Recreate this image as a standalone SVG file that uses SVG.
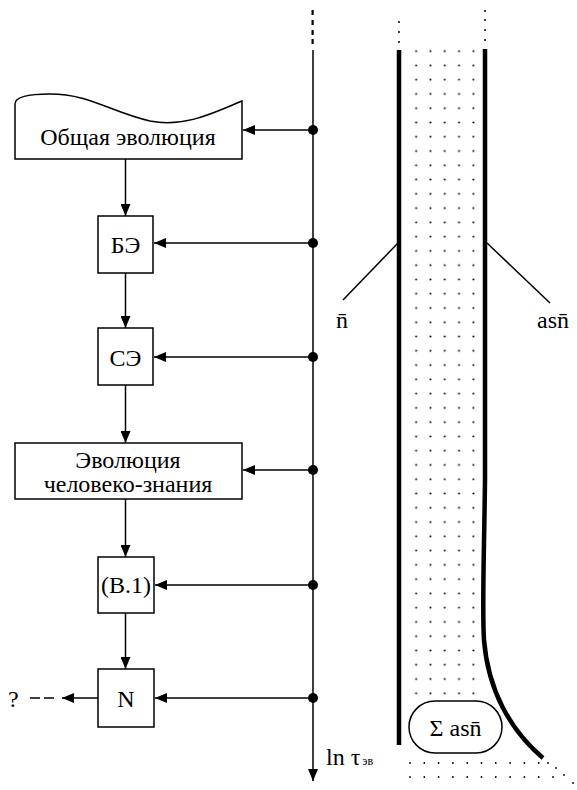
<svg xmlns="http://www.w3.org/2000/svg" width="577" height="790" viewBox="0 0 577 790" font-family="'Liberation Serif', 'DejaVu Serif', 'Times New Roman', serif">
<style>
text{font-family:'Liberation Serif','DejaVu Serif','Times New Roman',serif;font-size:24px;fill:#000}
.c{text-anchor:middle}
.box{fill:#fff;stroke:#000;stroke-width:1.5}
.ln{stroke:#000;stroke-width:1.5;fill:none}
.thick{stroke:#000;stroke-width:4.5;fill:none}
.dot{fill:#000}
</style>
<defs>
<marker id="ah" viewBox="0 0 12 10" refX="12" refY="5" markerWidth="12" markerHeight="10" orient="auto" markerUnits="userSpaceOnUse"><path d="M0,0 L12,5 L0,10 Z" fill="#000"/></marker>
<pattern id="grid" patternUnits="userSpaceOnUse" x="409" y="44" width="14.3" height="14.27"><circle cx="7.15" cy="7.13" r="1" fill="#000"/></pattern>
</defs>

<g id="field">
<rect x="409" y="44" width="71.5" height="656" fill="url(#grid)"/>
<g fill="#000">
<circle cx="410" cy="763" r="0.9"/><circle cx="424.3" cy="763" r="0.9"/><circle cx="438.6" cy="763" r="0.9"/><circle cx="452.9" cy="763" r="0.9"/><circle cx="467.2" cy="763" r="0.9"/><circle cx="481.5" cy="763" r="0.9"/><circle cx="495.8" cy="763" r="0.9"/><circle cx="510.1" cy="763" r="0.9"/><circle cx="524.4" cy="763" r="0.9"/><circle cx="538.7" cy="763" r="0.9"/>
<circle cx="410" cy="777" r="0.9"/><circle cx="424.3" cy="777" r="0.9"/><circle cx="438.6" cy="777" r="0.9"/><circle cx="452.9" cy="777" r="0.9"/><circle cx="467.2" cy="777" r="0.9"/><circle cx="481.5" cy="777" r="0.9"/><circle cx="495.8" cy="777" r="0.9"/><circle cx="510.1" cy="777" r="0.9"/><circle cx="524.4" cy="777" r="0.9"/><circle cx="538.7" cy="777" r="0.9"/><circle cx="553" cy="777" r="0.9"/>
<circle cx="548" cy="763" r="0.9"/><circle cx="556" cy="768" r="0.9"/><circle cx="564" cy="775" r="0.9"/><circle cx="573" cy="783" r="0.9"/>
<circle cx="399" cy="22" r="1"/><circle cx="399" cy="32" r="1"/><circle cx="399" cy="42" r="1"/>
<circle cx="485" cy="11" r="1"/><circle cx="485" cy="20" r="1"/><circle cx="485" cy="30" r="1"/><circle cx="485" cy="40" r="1"/>
</g>
<line class="thick" x1="399" y1="50" x2="399" y2="745"/>
<path class="thick" d="M485,49 L485,480 C484,560 482,610 484,640 C488,690 510,730 543,758"/>
<line class="ln" stroke-width="1" x1="343" y1="300" x2="398" y2="243"/>
<line class="ln" stroke-width="1" x1="487" y1="243" x2="550" y2="303"/>
<text class="c" x="342" y="328" font-family="'Liberation Serif', serif">n̄</text>
<text class="c" x="553" y="328" font-family="'Liberation Serif', serif">asn̄</text>
</g>

<g id="sum">
<rect class="box" x="409" y="701" width="93" height="52" rx="26"/>
<text class="c" x="455.5" y="736" font-family="'Liberation Serif', serif">Σ asn̄</text>
</g>

<g id="n1">
<path class="box" d="M15,159 V104 C15,96 30,94 50,94 C90,94 110,112 150,121 C185,128 215,112 242,101 V159 Z"/>
<text class="c" x="128" y="145" font-family="'Liberation Serif', serif">Общая эволюция</text>
</g>
<g id="n2">
<rect class="box" x="98" y="216" width="55" height="57"/>
<text class="c" x="125.5" y="253" font-family="'Liberation Serif', serif">БЭ</text>
</g>
<g id="n3">
<rect class="box" x="98" y="328" width="55" height="57"/>
<text class="c" x="125.5" y="366" font-family="'Liberation Serif', serif">СЭ</text>
</g>
<g id="n4">
<rect class="box" x="15" y="443" width="227" height="56"/>
<text class="c" x="128" y="468" font-family="'Liberation Serif', serif">Эволюция</text>
<text class="c" x="128" y="492" font-family="'Liberation Serif', serif">человеко-знания</text>
</g>
<g id="n5">
<rect class="box" x="98" y="557" width="56" height="56"/>
<text class="c" x="126" y="593" font-family="'Liberation Serif', serif">(B.1)</text>
</g>
<g id="n6">
<rect class="box" x="98" y="669" width="56" height="58"/>
<text class="c" x="126" y="707" font-family="'Liberation Serif', serif">N</text>
</g>
<g id="q">
<text x="8" y="707" font-family="'Liberation Serif', serif">?</text>
</g>

<g id="connectors">
<g fill="#000">
<rect x="311.5" y="10" width="2.2" height="5"/><rect x="311.5" y="20" width="2.2" height="5"/><rect x="311.5" y="30" width="2.2" height="5"/><rect x="311.5" y="39" width="2.2" height="5"/>
</g>
<line class="ln" x1="313" y1="50" x2="313" y2="781" marker-end="url(#ah)"/>
<line class="ln" x1="313" y1="130" x2="243" y2="130" marker-end="url(#ah)"/>
<line class="ln" x1="313" y1="243" x2="154" y2="243" marker-end="url(#ah)"/>
<line class="ln" x1="313" y1="357" x2="154" y2="357" marker-end="url(#ah)"/>
<line class="ln" x1="313" y1="470" x2="243" y2="470" marker-end="url(#ah)"/>
<line class="ln" x1="313" y1="585" x2="155" y2="585" marker-end="url(#ah)"/>
<line class="ln" x1="313" y1="698" x2="155" y2="698" marker-end="url(#ah)"/>
<line class="ln" x1="125.5" y1="159" x2="125.5" y2="216" marker-end="url(#ah)"/>
<line class="ln" x1="125.5" y1="273" x2="125.5" y2="328" marker-end="url(#ah)"/>
<line class="ln" x1="125.5" y1="385" x2="125.5" y2="443" marker-end="url(#ah)"/>
<line class="ln" x1="125.5" y1="499" x2="125.5" y2="557" marker-end="url(#ah)"/>
<line class="ln" x1="125.5" y1="613" x2="125.5" y2="669" marker-end="url(#ah)"/>
<line class="ln" x1="98" y1="698" x2="62" y2="698" marker-end="url(#ah)"/>
<line class="ln" x1="30" y1="698" x2="58" y2="698" stroke-dasharray="10,4"/>
<circle class="dot" cx="313" cy="130" r="5"/>
<circle class="dot" cx="313" cy="243" r="5"/>
<circle class="dot" cx="313" cy="357" r="5"/>
<circle class="dot" cx="313" cy="470" r="5"/>
<circle class="dot" cx="313" cy="585" r="5"/>
<circle class="dot" cx="313" cy="698" r="5"/>
<text x="326" y="765" font-family="'Liberation Serif', serif">ln τ<tspan font-size="12" dx="2">эв</tspan></text>
</g>
</svg>
